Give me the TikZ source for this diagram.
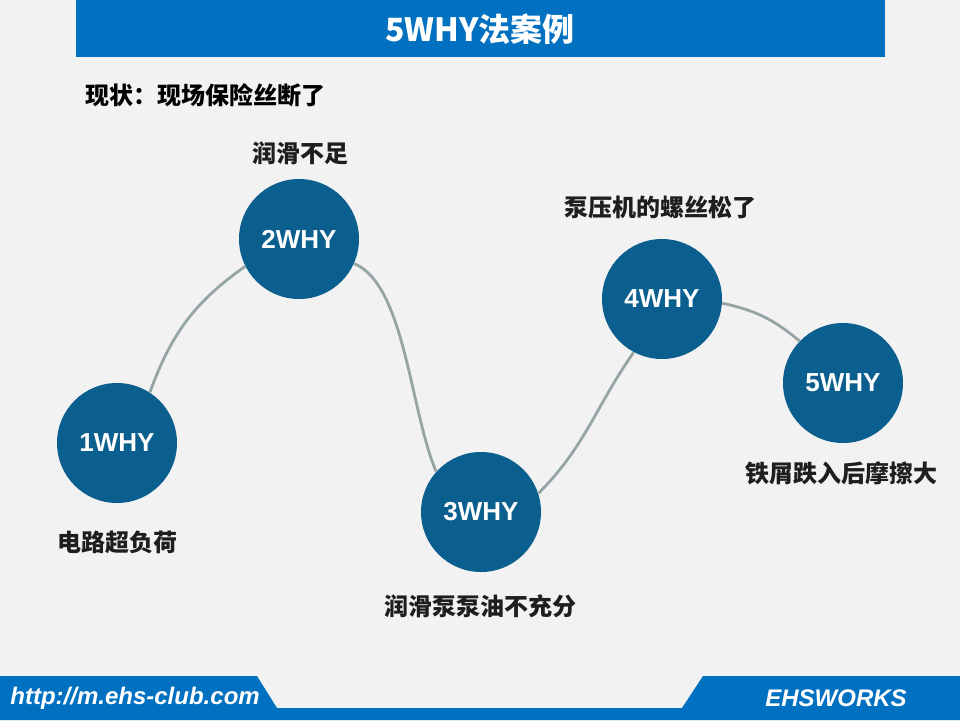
\documentclass[tikz,border=0pt]{standalone}
\usepackage{fontspec}
\setmainfont{Liberation Sans}
\newfontfamily\cjk{Noto Sans CJK SC}
\definecolor{bgc}{HTML}{F2F2F2}
\definecolor{barblue}{HTML}{0070C0}
\definecolor{circ}{HTML}{0B5F8E}
\definecolor{linec}{HTML}{95A5A6}
\definecolor{txt}{HTML}{1E1E1E}
\begin{document}
\begin{tikzpicture}[x=0.5pt,y=-0.5pt,
  whynode/.style={circle,fill=circ,minimum size=60pt,inner sep=0pt,text=white,font=\fontsize{13pt}{15pt}\selectfont\bfseries},
  lbl/.style={text=txt,font=\cjk\bfseries\fontsize{12pt}{14pt}\selectfont,inner sep=0pt},
  conn/.style={draw=linec,line width=1.4pt},
  bar/.style={fill=barblue}]
\useasboundingbox (0,0) rectangle (960,720);
\fill[bgc] (0,0) rectangle (960,720);
% top banner
\fill[bar] (76,0) rectangle (885,57);
\node[inner sep=0pt,text=white,font=\cjk\bfseries\fontsize{16pt}{18pt}\selectfont] (title) at (480,29) {5WHY法案例};
\node[lbl,anchor=west,text=black] (status) at (85,95) {现状：现场保险丝断了};
% bottom bar
\fill[bar] (0,676) -- (257,676) -- (277,708) -- (682,708) -- (703,676) -- (960,676) -- (960,720) -- (0,720) -- cycle;
\node[inner sep=0pt,anchor=west,text=white,font=\fontsize{12pt}{14pt}\selectfont\bfseries\itshape] (url) at (10,698) {http://m.ehs-club.com};
\node[inner sep=0pt,text=white,font=\fontsize{12pt}{14pt}\selectfont\bfseries\itshape] (brand) at (836,698) {EHSWORKS};
% circles
\node[whynode] (w1) at (117,443) {1WHY};
\node[whynode] (w2) at (299,239) {2WHY};
\node[whynode] (w3) at (481,512) {3WHY};
\node[whynode] (w4) at (662,299) {4WHY};
\node[whynode] (w5) at (843,383) {5WHY};
% connectors
\draw[conn] (w1.57) to[out=70,in=215] (w2.207);
\draw[conn] (w2.-24) .. controls (405,285) and (410,410) .. (w3.138);
\draw[conn] (w3.18) to[out=45,in=235] (w4.242);
\draw[conn] (w4.-4) to[out=-12,in=140] (w5.136);
% labels
\node[lbl] (l1) at (117,542) {电路超负荷};
\node[lbl] (l2) at (300,153) {润滑不足};
\node[lbl] (l3) at (480,606) {润滑泵泵油不充分};
\node[lbl] (l4) at (660,207) {泵压机的螺丝松了};
\node[lbl] (l5) at (841,473) {铁屑跌入后摩擦大};
\end{tikzpicture}
\end{document}
